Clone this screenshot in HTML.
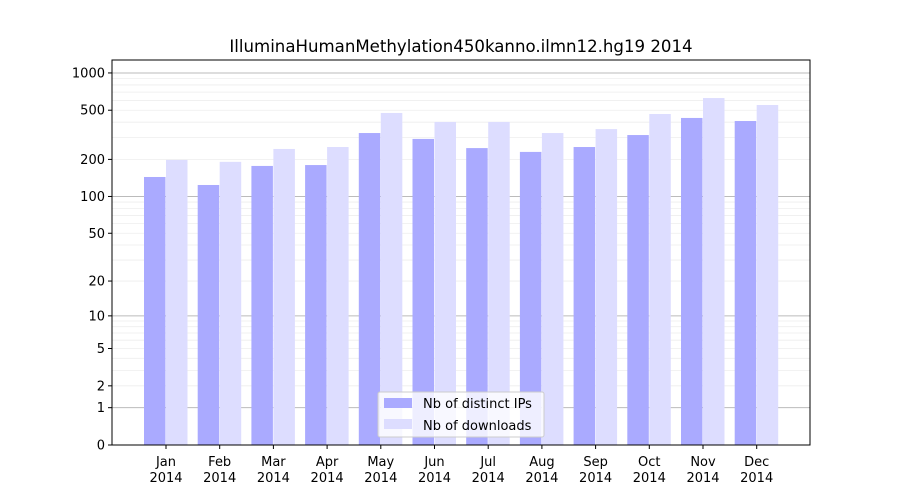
<!DOCTYPE html>
<html><head><meta charset="utf-8"><style>body{margin:0;background:#fff}svg{display:block;font-family:"DejaVu Sans","Liberation Sans",sans-serif}</style></head>
<body>
<svg id="chart" width="900" height="500">
<rect width="900" height="500" fill="#fff"/>
<g id="grid"></g><g id="bars"></g><g id="axes"></g>
<text x="461" y="52" text-anchor="middle" font-size="16.6">IlluminaHumanMethylation450kanno.ilmn12.hg19 2014</text>
<g>
<rect x="378" y="392" width="166" height="45" fill="#fff" fill-opacity="0.8" stroke="#ccc" rx="2"/>
<rect x="384" y="398" width="28" height="10" fill="#aaaaff"/>
<text x="423" y="408" font-size="13">Nb of distinct IPs</text>
<rect x="384" y="419" width="28" height="10" fill="#ddddff"/>
<text x="423" y="430" font-size="13">Nb of downloads</text>
</g>
</svg>
<script>
const months=["Jan","Feb","Mar","Apr","May","Jun","Jul","Aug","Sep","Oct","Nov","Dec"];
const ips=[144,124,177,180,327,293,247,230,252,315,433,409];
const downloads=[198,191,243,252,475,402,402,327,352,466,627,551];
const yTicks=[0,1,2,5,10,20,50,100,200,500,1000];
const NS="http://www.w3.org/2000/svg";
const L=112,R=810,T=60,B=445;
function y(v){return B-124*Math.log10(1+v);}
function x(i){return 166+i*53.7;}
function mk(p,tag,a){const e=document.createElementNS(NS,tag);for(const k in a)e.setAttribute(k,a[k]);p.appendChild(e);return e;}
const grid=document.getElementById('grid'),bars=document.getElementById('bars'),axes=document.getElementById('axes');
[1,10,100,1000].forEach(d=>{for(let m=1;m<10;m++){const v=d*m;if(v>1000)continue;const g=mk(grid,'line',{x1:L,x2:R,y1:y(v),y2:y(v),stroke:m==1?'#bbb':'#eee','stroke-width':m==1?1:0.8});

}});
months.forEach((mo,i)=>{
const a=mk(bars,'rect',{x:x(i)-22,y:y(ips[i]),width:21.5,height:B-y(ips[i]),fill:'#aaaaff'});


const b=mk(bars,'rect',{x:x(i),y:y(downloads[i]),width:21.5,height:B-y(downloads[i]),fill:'#ddddff'});


mk(axes,'line',{x1:x(i),x2:x(i),y1:B,y2:B+4,stroke:'#000'});
const t=mk(axes,'text',{x:x(i),y:B+21,'text-anchor':'middle','font-size':13});t.textContent=mo;


const t2=mk(axes,'text',{x:x(i),y:B+37,'text-anchor':'middle','font-size':13});t2.textContent='2014';


});
yTicks.forEach(v=>{mk(axes,'line',{x1:L-4,x2:L,y1:y(v),y2:y(v),stroke:'#000'});
const t=mk(axes,'text',{x:L-7,y:y(v)+4.5,'text-anchor':'end','font-size':13});t.textContent=v;

});
const f=mk(axes,'rect',{x:L,y:T,width:R-L,height:B-T,fill:'none',stroke:'#000'});


</script>
</body></html>
